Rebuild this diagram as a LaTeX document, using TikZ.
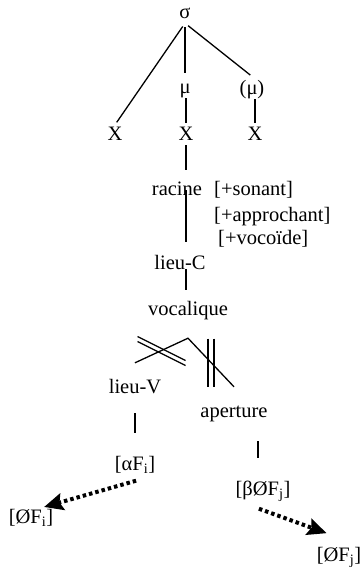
\documentclass[tikz,border=0pt]{standalone}
\usepackage{fontspec}
\setmainfont{Liberation Serif}
\usepackage{tikz}
\usetikzlibrary{positioning,arrows.meta,calc}

\begin{document}
\begin{tikzpicture}[
x=1pt,y=-1pt,
font=\fontsize{20.5}{24}\selectfont,
lab/.style={
inner sep=0pt,
text height=15pt,
text depth=5pt
},
branch/.style={lab,inner ysep=15pt},
feat/.style={lab,anchor=west},
link/.style={line width=1.3pt},
cut/.style={line width=1.3pt},
spread/.style={line width=4pt,dash pattern=on 3.5pt off 3pt,
-{Stealth[length=19pt,width=17pt,inset=3pt]}}
]
\useasboundingbox (0,0) rectangle (362,568);

% SYLLABLE
\node[lab] (sigma) at (185,13) {σ};
\node[lab] (mu1) at (185,88) {μ};
\node[lab] (mu2) at (252,89) {(μ)};

% SKELETON
\node[lab] (x1) at (115,135) {X};
\node[lab] (x2) at (186,135) {X};
\node[lab] (x3) at (255,135) {X};

% ROOT
\node[lab] (racine) at (177,190) {racine};
\node[feat] (sonant) at (214,190) {[+sonant]};
\node[feat,below=6pt of sonant.south west,anchor=north west] (approchant) {[+approchant]};
\node[feat,below=3pt of approchant.south west,anchor=north west,xshift=4pt] (vocoide) {[+vocoïde]};

% PLACE
\node[lab] (lieuC) at (180,264) {lieu-C};
\node[lab] (vocalique) at (188,310) {vocalique};
\coordinate[below=18pt of vocalique] (fork);

\node[branch] (lieuV) at (135,388) {lieu-V};
\node[branch] (aperture) at (234,412) {aperture};

% FEATURES
\node[lab] (alphaF) at (135,465) {[αF\textsubscript{i}]};
\node[lab] (betaF) at (263,490) {[βØF\textsubscript{j}]};
\node[lab] (zeroFi) at (31,518) {[ØF\textsubscript{i}]};
\node[lab] (zeroFj) at (339,556) {[ØF\textsubscript{j}]};

% LINKS
\draw[link,shorten <=4pt,shorten >=3pt] (sigma.south) -- (x1.north);
\draw[link,shorten <=4pt,shorten >=5pt] (sigma.south) -- (mu1.north);
\draw[link,shorten <=4pt,shorten >=6pt] (sigma.south) -- (x3 |- mu2.north);
\draw[link,shorten >=2pt] (x2 |- mu1.south) -- (x2.north);
\draw[link,shorten >=2pt] (x3 |- mu2.south) -- (x3.north);
\draw[link,shorten >=10pt] (x2.south) -- (x2 |- racine.north);
\draw[link,shorten >=12pt] (x2 |- racine.center) -- (x2 |- lieuC.north);
\draw[link,shorten >=10pt] (x2 |- lieuC.base) -- (x2 |- vocalique.north);
\draw[link] (lieuV.north) -- (fork) -- (aperture.north);
\draw[link,shorten >=22pt] (lieuV.south) -- (lieuV.south |- alphaF.north);
\draw[link,shorten <=4pt,shorten >=22pt] ($(aperture.south -| betaF.north)+(-5,0)$) -- ($(betaF.north)+(-5,0)$);

% DELINKING
\coordinate (cutL) at ($(lieuV.north)!0.5!(fork)$);
\coordinate (cutR) at ($(fork)!0.5!(aperture.north)$);
\draw[cut] ([shift={(-24,-14)}]cutL) -- ++(48,24);
\draw[cut] ([shift={(-24,-9)}]cutL) -- ++(48,24);
\draw[cut] ([shift={(-3,-24)}]cutR) -- ++(0,48);
\draw[cut] ([shift={(3,-24)}]cutR) -- ++(0,48);

% SPREADING
\draw[spread,shorten <=20pt,shorten >=3pt] (alphaF.south east) -- (zeroFi.45);
\draw[spread,shorten <=25pt,shorten >=37pt] (betaF.south west) -- (zeroFj.north east);

\end{tikzpicture}
\end{document}
